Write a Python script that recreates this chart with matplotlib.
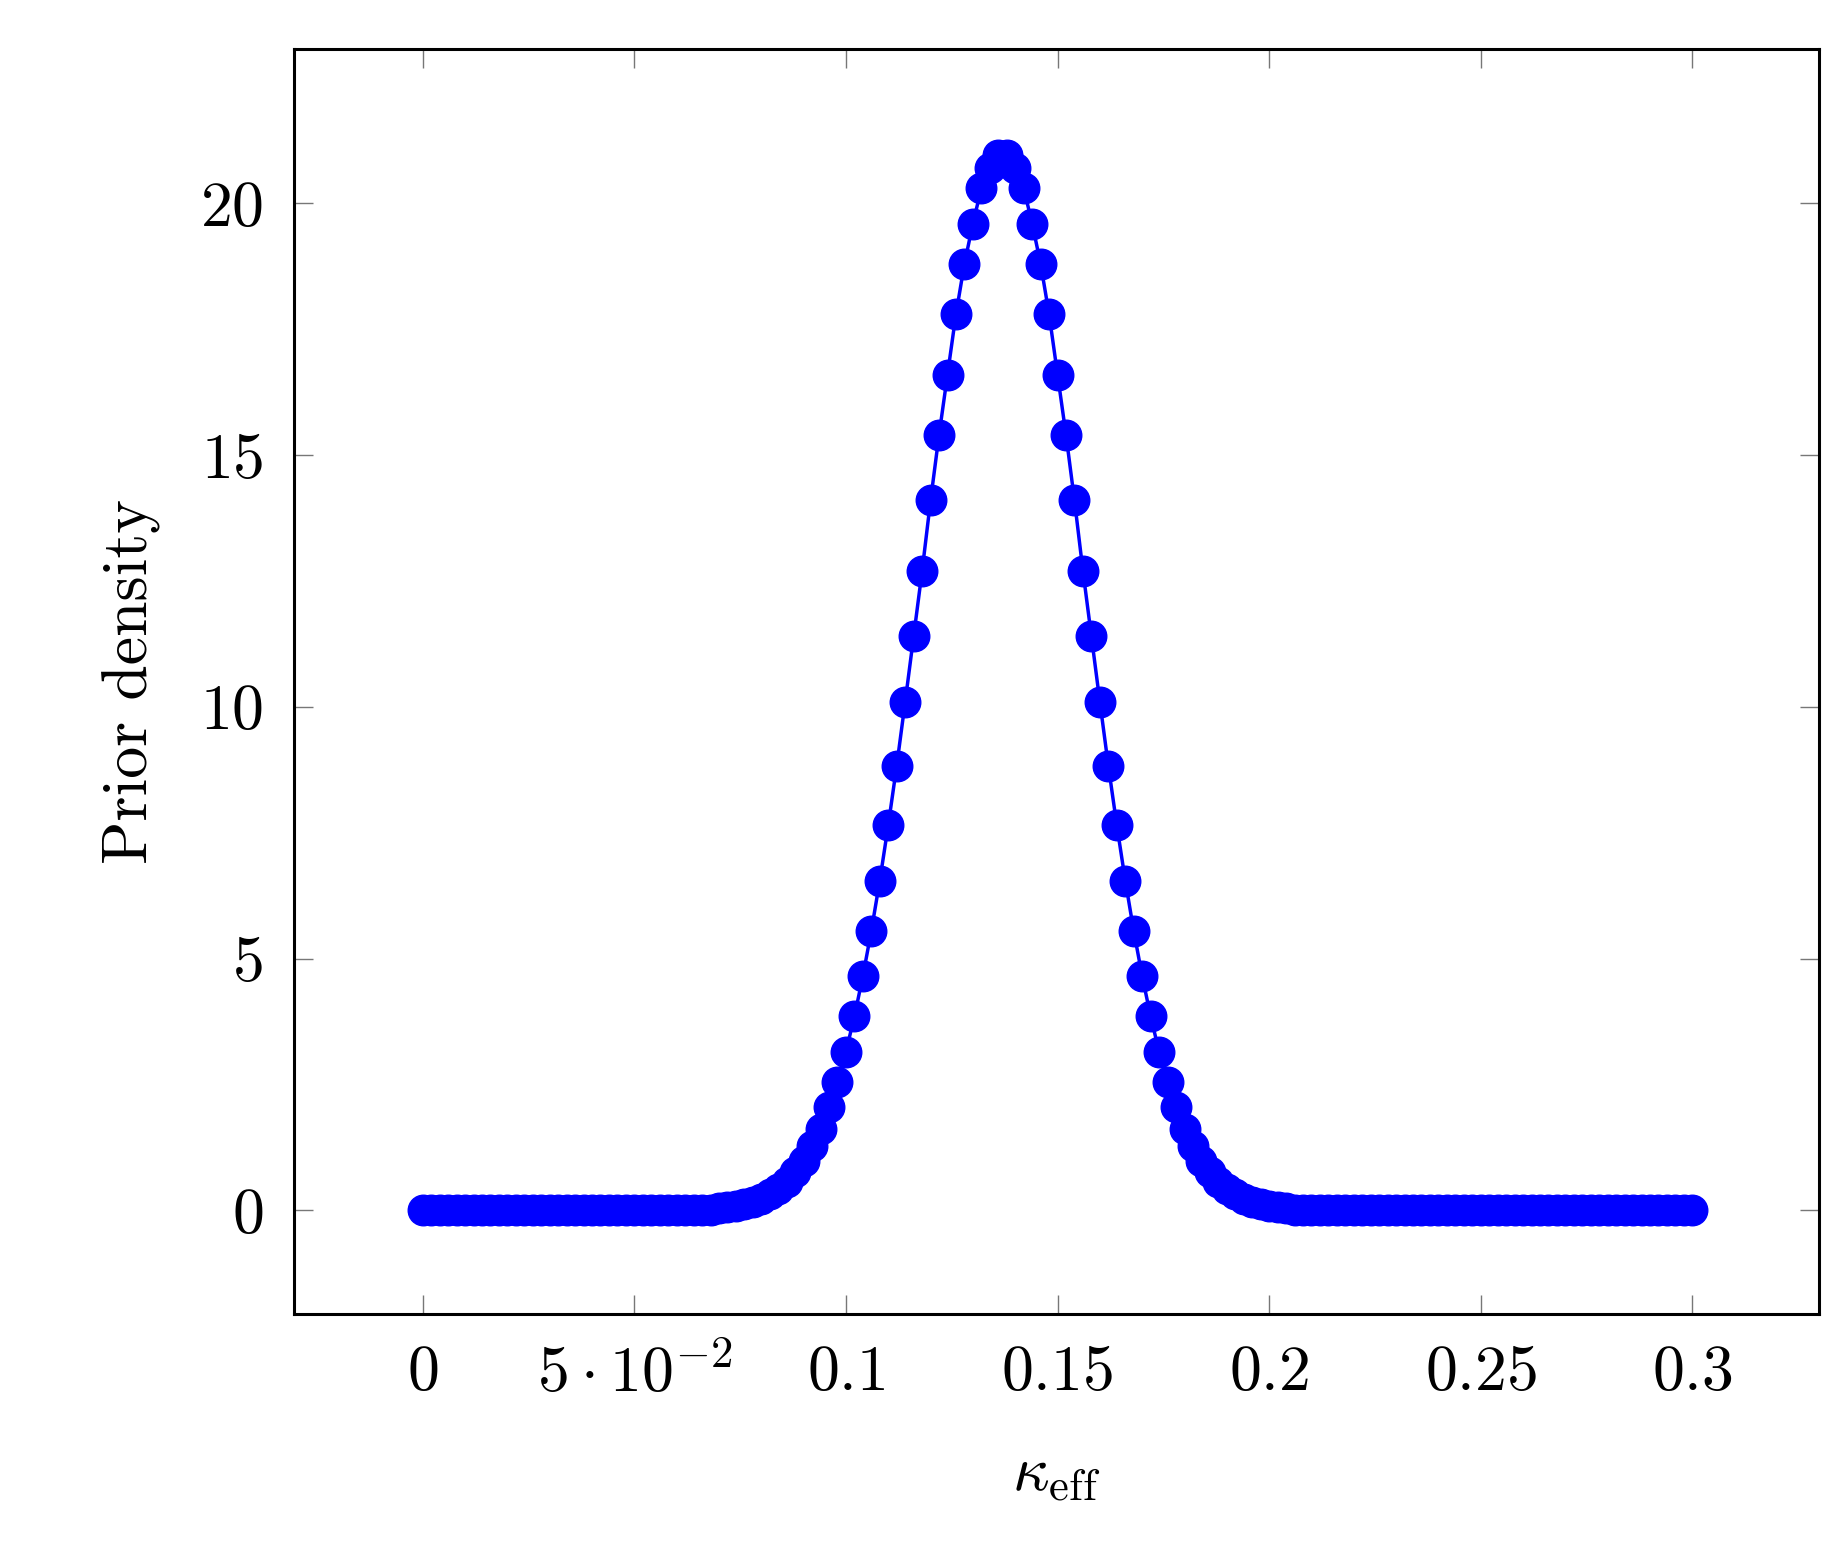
import numpy as np
import matplotlib
matplotlib.use("Agg")
import matplotlib.pyplot as plt

plt.rcParams['mathtext.fontset'] = 'cm'
plt.rcParams['font.family'] = ['cmr10', 'DejaVu Serif']
plt.rcParams['axes.formatter.use_mathtext'] = True

# kappa_eff grid and prior density
kappa = np.linspace(0.0, 0.3, 151)
density = ([0.0] * 35 +
           [0.042, 0.06, 0.086, 0.12, 0.17, 0.23, 0.32, 0.43, 0.57, 0.76,
            0.98, 1.27, 1.62, 2.05, 2.55, 3.15, 3.85, 4.65, 5.55, 6.55,
            7.65, 8.83, 10.1, 11.4, 12.7, 14.1, 15.4, 16.6, 17.8, 18.8,
            19.6, 20.3, 20.7, 20.97, 20.97,
            20.7, 20.3, 19.6, 18.8, 17.8, 16.6, 15.4, 14.1, 12.7, 11.4,
            10.1, 8.83, 7.65, 6.55, 5.55, 4.65, 3.85, 3.15, 2.55, 2.05,
            1.62, 1.27, 0.98, 0.76, 0.57, 0.43, 0.32, 0.23, 0.17, 0.12,
            0.086, 0.06, 0.042] +
           [0.0] * 48)

xticks = [0, 0.05, 0.1, 0.15, 0.2, 0.25, 0.3]
xticklabels = ['$0$', r'$5\cdot10^{-2}$', '$0.1$', '$0.15$', '$0.2$', '$0.25$', '$0.3$']
yticks = [0, 5, 10, 15, 20]

fig = plt.figure(figsize=(18.47, 15.41), dpi=100)
ax = fig.add_axes([0.159, 0.147, 0.826, 0.821])
ax.plot(kappa, density, color='blue', lw=2.5, marker='o', markersize=22,
        markerfacecolor='blue', markeredgecolor='blue')
ax.set_xlim(-0.0305, 0.33)
ax.set_ylim(-2.07, 23.06)
ax.set_xticks(xticks)
ax.set_xticklabels(xticklabels)
ax.set_yticks(yticks)
ax.set_yticklabels(['$%d$' % v for v in yticks])
ax.tick_params(direction='in', length=14, width=1, color='#777777',
               top=True, right=True, labelsize=46, pad=22)
for s in ax.spines.values():
    s.set_linewidth(2.2)
ax.set_xlabel(r'$\kappa_{\mathrm{eff}}$', fontsize=46, labelpad=30)
ax.set_ylabel('Prior density', fontsize=46, labelpad=28)
fig.savefig('out.png', dpi=100)
